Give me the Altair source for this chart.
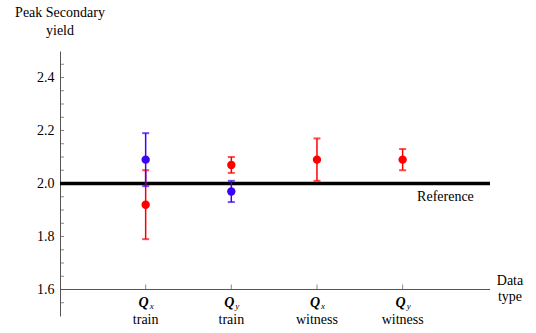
import altair as alt
import pandas as pd

# Data categories along the horizontal axis
positions = [1, 2, 3, 4]
subscripts = ["x", "y", "x", "y"]
kinds = ["train", "train", "witness", "witness"]

# Red series: peak secondary yield and its uncertainty
red_mean = [1.92, 2.07, 2.09, 2.09]
red_err = [0.13, 0.03, 0.08, 0.04]

# Blue series (training sets only)
blue_pos = [1, 2]
blue_mean = [2.09, 1.97]
blue_err = [0.10, 0.04]

reference_value = 2.0
y_labels = [1.6, 1.8, 2.0, 2.2, 2.4]
y_minor = [1.55, 1.65, 1.7, 1.75, 1.85, 1.9, 1.95, 2.05, 2.1, 2.15,
           2.25, 2.3, 2.35, 2.45]

X_MAX = 5.02
Y_MIN, Y_MAX = 1.5, 2.5
X_AXIS_Y = 1.6
FONT = "Times New Roman"
RED = "#ff0000"
BLUE = "#3c00ff"
GREY = "#555555"

xs = alt.Scale(domain=[0, X_MAX], nice=False, zero=False)
ys = alt.Scale(domain=[Y_MIN, Y_MAX], nice=False, zero=False)

# One shared y axis definition used by every layer
y_axis = alt.Axis(
    values=y_labels, format=".1f", ticks=False, grid=False, title=None,
    labelFont=FONT, labelFontSize=14, labelColor="black", labelPadding=6,
    domainColor=GREY, domainWidth=1)


def X(field):
    return alt.X(field, type="quantitative", scale=xs, axis=None)


def Y(field):
    return alt.Y(field, type="quantitative", scale=ys, axis=y_axis)


def series(pos, mean, err):
    return pd.DataFrame({
        "x": pos,
        "m": mean,
        "lo": [m - e for m, e in zip(mean, err)],
        "hi": [m + e for m, e in zip(mean, err)],
    })


def error_layers(df, color, width):
    base = alt.Chart(df)
    bar = base.mark_rule(color=color, strokeWidth=width).encode(
        x=X("x"), y=Y("lo"), y2="hi")
    cap_lo = base.mark_tick(color=color, orient="horizontal", size=7, thickness=2).encode(
        x=X("x"), y=Y("lo"))
    cap_hi = base.mark_tick(color=color, orient="horizontal", size=7, thickness=2).encode(
        x=X("x"), y=Y("hi"))
    pts = base.mark_circle(color=color, size=70, opacity=1).encode(
        x=X("x"), y=Y("m"))
    return [bar, cap_lo, cap_hi, pts]


def label(text, x, y, dx=0, dy=0):
    return alt.Chart(pd.DataFrame({"x": [x], "y": [y], "t": [text]})).mark_text(
        font=FONT, fontSize=14, baseline="middle", align="center",
        dx=dx, dy=dy, color="black"
    ).encode(x=X("x"), y=Y("y"), text="t:N")


# Small ticks on the y axis, drawn to the right of the axis line
all_ticks = y_minor + y_labels
y_ticks = alt.Chart(pd.DataFrame({"v": all_ticks, "x": [0] * len(all_ticks)})).mark_tick(
    orient="horizontal", size=4, thickness=1, color=GREY, xOffset=2
).encode(x=X("x"), y=Y("v"))

x_line = alt.Chart(pd.DataFrame({"x": [0], "x2": [X_MAX], "y": [X_AXIS_Y]})).mark_rule(
    color=GREY, strokeWidth=1).encode(x=X("x"), x2="x2", y=Y("y"))

cats = pd.DataFrame({"x": positions, "sub": subscripts, "kind": kinds,
                     "y": [X_AXIS_Y] * len(positions), "q": ["Q"] * len(positions)})

x_ticks = alt.Chart(cats).mark_tick(
    orient="vertical", size=5, thickness=1, color=GREY, yOffset=-2.5
).encode(x=X("x"), y=Y("y"))

q_text = alt.Chart(cats).mark_text(
    font=FONT, fontSize=14, fontStyle="italic", fontWeight="bold",
    baseline="middle", align="center", dx=-2, dy=13, color="black"
).encode(x=X("x"), y=Y("y"), text="q:N")

sub_text = alt.Chart(cats).mark_text(
    font=FONT, fontSize=9, fontStyle="italic", baseline="middle", align="left",
    dx=4, dy=16, color="black"
).encode(x=X("x"), y=Y("y"), text="sub:N")

kind_text = alt.Chart(cats).mark_text(
    font=FONT, fontSize=14, baseline="middle", align="center", dy=30, color="black"
).encode(x=X("x"), y=Y("y"), text="kind:N")

ref_line = alt.Chart(pd.DataFrame({"x": [0], "x2": [X_MAX], "y": [reference_value]})).mark_rule(
    color="black", strokeWidth=3.5).encode(x=X("x"), x2="x2", y=Y("y"))

ref_text = label("Reference", 4.5, reference_value, dy=13)
title1 = label("Peak Secondary", 0, Y_MAX, dy=-38)
title2 = label("yield", 0, Y_MAX, dy=-20)
xtitle1 = label("Data", X_MAX, X_AXIS_Y, dx=20, dy=-9)
xtitle2 = label("type", X_MAX, X_AXIS_Y, dx=20, dy=7)

layers = [y_ticks, x_line, x_ticks, q_text, sub_text, kind_text,
          ref_line, ref_text, title1, title2, xtitle1, xtitle2]
layers += error_layers(series(positions, red_mean, red_err), RED, 1.5)
layers += error_layers(series(blue_pos, blue_mean, blue_err), BLUE, 1.5)

chart = alt.layer(*layers).properties(
    width=430, height=265,
    autosize=alt.AutoSizeParams(type="none"),
    padding={"left": 60, "top": 51, "right": 46, "bottom": 17},
).configure(background="white", view=alt.ViewConfig(stroke=None))

chart.save("out.html", embed_options={"renderer": "svg", "actions": False})
